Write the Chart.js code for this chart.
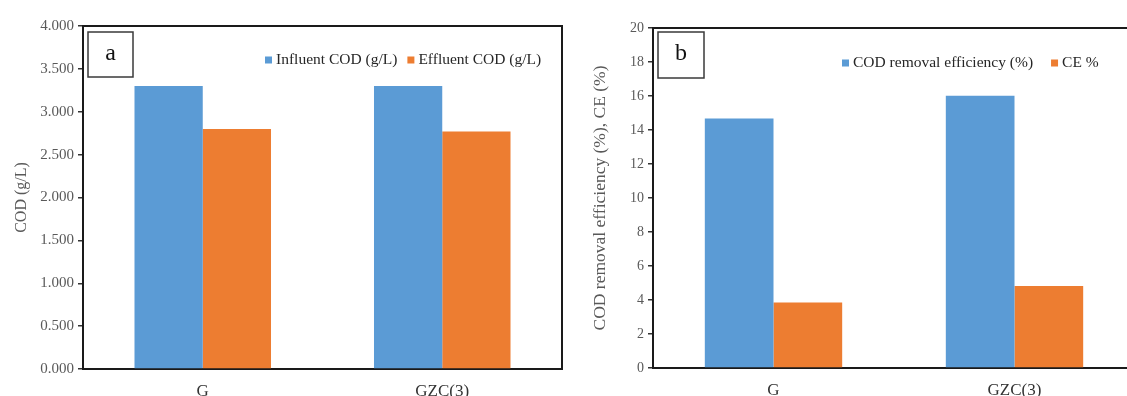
<!DOCTYPE html>
<html>
<head>
<meta charset="utf-8">
<script src="https://cdn.jsdelivr.net/npm/chart.js@4.4.1/dist/chart.umd.min.js"></script>
<style>
  html, body { margin: 0; padding: 0; background: #fff; overflow: hidden; width: 1127px; height: 396px; }
  .panel { position: absolute; top: 0; height: 396px; }
  #wrapA { left: 0; width: 570px; }
  #wrapB { left: 575px; width: 570px; }
</style>
</head>
<body>
<div id="wrapA" class="panel"><canvas id="chartA"></canvas></div>
<div id="wrapB" class="panel"><canvas id="chartB"></canvas></div>
<script>
// Sample groups
const categories = ['G', 'GZC(3)'];

// Panel a: COD (g/L)
const influentCOD = [3.30, 3.30];
const effluentCOD = [2.80, 2.77];
const codTicks = [0, 0.5, 1, 1.5, 2, 2.5, 3, 3.5, 4];

// Panel b: efficiencies (%)
const codRemovalEff = [14.67, 16.02];
const coulombicEff = [3.86, 4.82];
const effTicks = [0, 2, 4, 6, 8, 10, 12, 14, 16, 18, 20];

const BLUE = '#5b9bd5';
const ORANGE = '#ed7d31';
const SERIF = '"Liberation Serif", "Times New Roman", serif';

// Draws the plot frame, the boxed panel letter and an in-plot legend
const panelDecor = {
  id: 'panelDecor',
  afterDraw(chart, args, opts) {
    const ctx = chart.ctx;
    const a = chart.chartArea;
    ctx.save();
    // frame (top and right edges)
    ctx.strokeStyle = '#1a1a1a';
    ctx.lineWidth = 2;
    ctx.beginPath();
    ctx.moveTo(a.left, a.top);
    ctx.lineTo(a.right, a.top);
    ctx.lineTo(a.right, a.bottom);
    ctx.stroke();
    // panel letter box
    ctx.strokeStyle = '#3a3a3a';
    ctx.lineWidth = 1.5;
    const bx = a.left + opts.boxDX, by = a.top + opts.boxDY;
    ctx.strokeRect(bx, by, opts.boxSize, opts.boxSize);
    ctx.fillStyle = '#111';
    ctx.font = '24px ' + SERIF;
    ctx.textAlign = 'center';
    ctx.textBaseline = 'middle';
    ctx.fillText(opts.letter, bx + opts.boxSize / 2, by + opts.boxSize / 2 - 1);
    // legend
    ctx.font = opts.legendFont + 'px ' + SERIF;
    ctx.textAlign = 'left';
    let x = a.left + opts.legendDX;
    const y = a.top + opts.legendDY;
    chart.data.datasets.forEach((ds, i) => {
      ctx.fillStyle = ds.backgroundColor;
      ctx.fillRect(x, y - 3.5, 7, 7);
      x += 7 + 4;
      ctx.fillStyle = '#262626';
      ctx.fillText(ds.label, x, y);
      x += ctx.measureText(ds.label).width + opts.gaps[i];
    });
    ctx.restore();
  }
};

function makeChart(id, cfg) {
  return new Chart(document.getElementById(id), {
    type: 'bar',
    data: {
      labels: categories,
      datasets: cfg.series.map(s => ({
        label: s.label,
        data: s.data,
        backgroundColor: s.color,
        borderWidth: 0,
        categoryPercentage: 0.57,
        barPercentage: 1.0
      }))
    },
    options: {
      responsive: true,
      maintainAspectRatio: false,
      animation: false,
      events: [],
      layout: { padding: cfg.padding },
      plugins: {
        legend: { display: false },
        tooltip: { enabled: false },
        panelDecor: cfg.decor
      },
      scales: {
        x: {
          grid: { display: false },
          border: { display: true, color: '#1a1a1a', width: 2 },
          ticks: { color: '#333', font: { family: SERIF, size: 17 }, padding: 4, maxRotation: 0 },
          afterFit: s => { s.height = cfg.xHeight; }
        },
        y: {
          min: 0,
          max: cfg.ticks[cfg.ticks.length - 1],
          afterBuildTicks: s => { s.ticks = cfg.ticks.map(v => ({ value: v })); },
          grid: { display: true, drawOnChartArea: false, drawTicks: true, tickLength: 5, color: '#333', lineWidth: 1.5 },
          border: { display: true, color: '#1a1a1a', width: 2 },
          ticks: {
            color: '#595959',
            font: { family: SERIF, size: cfg.tickSize },
            padding: 4,
            callback: v => v.toFixed(cfg.decimals)
          },
          title: {
            display: true,
            text: cfg.yTitle,
            color: '#595959',
            font: { family: SERIF, size: cfg.titleSize },
            padding: { top: cfg.titlePad, bottom: 0 }
          },
          afterFit: s => { s.width = cfg.yWidth; }
        }
      }
    },
    plugins: [panelDecor]
  });
}

makeChart('chartA', {
  series: [
    { label: 'Influent COD (g/L)', data: influentCOD, color: BLUE },
    { label: 'Effluent COD (g/L)', data: effluentCOD, color: ORANGE }
  ],
  ticks: codTicks,
  decimals: 3,
  tickSize: 15,
  yTitle: 'COD (g/L)',
  titleSize: 16,
  titlePad: 12,
  yWidth: 83,
  xHeight: 27,
  padding: { left: 0, right: 8, top: 26, bottom: 0 },
  decor: { letter: 'a', boxDX: 5, boxDY: 6, boxSize: 45, legendDX: 182, legendDY: 34, legendFont: 15.5, gaps: [10, 0] }
});

makeChart('chartB', {
  series: [
    { label: 'COD removal efficiency (%)', data: codRemovalEff, color: BLUE },
    { label: 'CE %', data: coulombicEff, color: ORANGE }
  ],
  ticks: effTicks,
  decimals: 0,
  tickSize: 14,
  yTitle: 'COD removal efficiency (%), CE (%)',
  titleSize: 17.5,
  titlePad: 15,
  yWidth: 78,
  xHeight: 28,
  padding: { left: 0, right: 10, top: 28, bottom: 0 },
  decor: { letter: 'b', boxDX: 5, boxDY: 4, boxSize: 46, legendDX: 189, legendDY: 35, legendFont: 15.5, gaps: [18, 0] }
});
</script>
</body>
</html>
